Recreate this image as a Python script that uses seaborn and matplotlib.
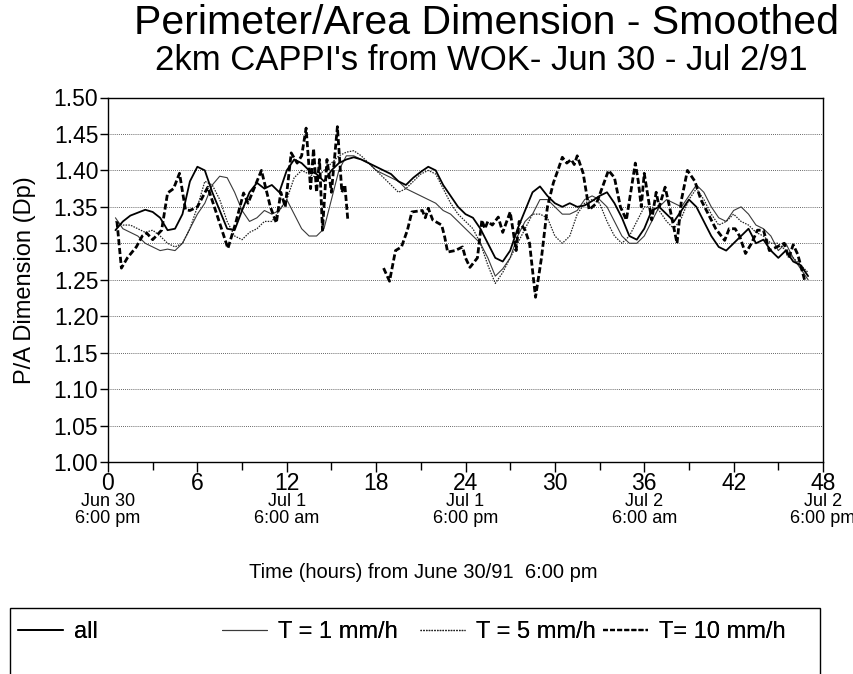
import numpy as np
import pandas as pd
import matplotlib
matplotlib.use("Agg")
import matplotlib.pyplot as plt
import matplotlib.transforms as mtransforms
from matplotlib.lines import Line2D
from matplotlib.patches import Rectangle
import seaborn as sns

# ---------------- data ----------------
t_grid = [0.5, 1, 1.5, 2, 2.5, 3, 3.5, 4, 4.5, 5, 5.5, 6, 6.5, 7, 7.5, 8, 8.5, 9, 9.5, 10,
          10.5, 11, 11.5, 12, 12.5, 13, 13.5, 14, 14.5, 15, 15.5, 16, 16.5, 17, 17.5, 18,
          18.5, 19, 19.5, 20, 20.5, 21, 21.5, 22, 22.5, 23, 23.5, 24, 24.5, 25, 25.5, 26,
          26.5, 27, 27.5, 28, 28.5, 29, 29.5, 30, 30.5, 31, 31.5, 32, 32.5, 33, 33.5, 34,
          34.5, 35, 35.5, 36, 36.5, 37, 37.5, 38, 38.5, 39, 39.5, 40, 40.5, 41, 41.5, 42,
          42.5, 43, 43.5, 44, 44.5, 45, 45.5, 46, 46.5, 47]

dp_all = [1.318, 1.330, 1.338, 1.342, 1.346, 1.343, 1.335, 1.318, 1.320, 1.340, 1.385, 1.405,
          1.400, 1.370, 1.345, 1.320, 1.318, 1.345, 1.370, 1.383, 1.375, 1.380, 1.370, 1.400,
          1.415, 1.410, 1.400, 1.395, 1.385, 1.400, 1.410, 1.415, 1.418, 1.415, 1.410, 1.405,
          1.400, 1.395, 1.385, 1.380, 1.390, 1.398, 1.405, 1.400, 1.380, 1.365, 1.350, 1.340,
          1.335, 1.320, 1.300, 1.280, 1.275, 1.290, 1.320, 1.345, 1.370, 1.378, 1.365, 1.355,
          1.350, 1.355, 1.350, 1.352, 1.358, 1.365, 1.370, 1.355, 1.335, 1.310, 1.305, 1.320,
          1.345, 1.350, 1.340, 1.330, 1.345, 1.360, 1.350, 1.330, 1.310, 1.295, 1.290, 1.300,
          1.310, 1.320, 1.300, 1.305, 1.290, 1.280, 1.290, 1.275, 1.270, 1.255]

dp_t1 = [1.335, 1.320, 1.315, 1.310, 1.300, 1.295, 1.290, 1.292, 1.290, 1.300, 1.320, 1.340,
         1.355, 1.380, 1.392, 1.390, 1.370, 1.345, 1.330, 1.335, 1.345, 1.340, 1.345, 1.360,
         1.340, 1.320, 1.310, 1.310, 1.320, 1.360, 1.400, 1.420, 1.420, 1.415, 1.410, 1.400,
         1.395, 1.390, 1.385, 1.375, 1.370, 1.365, 1.360, 1.355, 1.345, 1.340, 1.330, 1.320,
         1.310, 1.300, 1.280, 1.255, 1.265, 1.280, 1.310, 1.330, 1.340, 1.360, 1.360, 1.350,
         1.340, 1.340, 1.345, 1.360, 1.365, 1.360, 1.350, 1.330, 1.310, 1.300, 1.300, 1.310,
         1.330, 1.350, 1.360, 1.355, 1.350, 1.365, 1.380, 1.370, 1.350, 1.335, 1.330, 1.345,
         1.350, 1.340, 1.325, 1.320, 1.310, 1.290, 1.300, 1.280, 1.265, 1.250]

dp_t5 = [1.330, 1.325, 1.325, 1.320, 1.315, 1.318, 1.310, 1.300, 1.295, 1.300, 1.320, 1.350,
         1.385, 1.380, 1.360, 1.330, 1.310, 1.305, 1.315, 1.320, 1.330, 1.330, 1.345, 1.360,
         1.390, 1.400, 1.395, 1.390, 1.400, 1.410, 1.420, 1.425, 1.427, 1.420, 1.410, 1.400,
         1.390, 1.380, 1.370, 1.375, 1.385, 1.395, 1.400, 1.395, 1.375, 1.355, 1.340, 1.330,
         1.320, 1.300, 1.270, 1.245, 1.260, 1.280, 1.300, 1.320, 1.340, 1.340, 1.335, 1.310,
         1.300, 1.310, 1.340, 1.355, 1.360, 1.355, 1.330, 1.310, 1.300, 1.310, 1.330, 1.350,
         1.350, 1.345, 1.330, 1.320, 1.335, 1.360, 1.375, 1.360, 1.340, 1.325, 1.330, 1.340,
         1.330, 1.325, 1.315, 1.310, 1.300, 1.300, 1.290, 1.280, 1.270, 1.260]

# T = 10 mm/h : two segments (gap between ~16 h and ~18.5 h)
t10_time_a = [0.6, 0.9, 1.3, 1.9, 2.3, 2.6, 3.0, 3.6, 4.0, 4.4, 4.8, 5.2, 5.5, 6.0, 6.7, 7.3,
              8.05, 8.6, 9.1, 9.4, 10.3, 10.9, 11.3, 11.6, 11.9, 12.3, 12.7, 13.0, 13.3, 13.6,
              13.8, 14.0, 14.2, 14.4, 14.7, 15.0, 15.4, 15.7, 15.9, 16.1]
dp_t10_a = [1.330, 1.266, 1.280, 1.295, 1.310, 1.314, 1.305, 1.318, 1.369, 1.375, 1.396, 1.346,
            1.345, 1.350, 1.377, 1.340, 1.293, 1.330, 1.369, 1.355, 1.400, 1.350, 1.328, 1.370,
            1.350, 1.424, 1.410, 1.420, 1.458, 1.375, 1.430, 1.370, 1.415, 1.318, 1.415, 1.370,
            1.460, 1.370, 1.380, 1.332]
t10_time_b = [18.5, 18.9, 19.3, 19.7, 20.1, 20.4, 21.1, 21.3, 21.5, 21.8, 22.4, 22.6, 22.8, 23.3,
              23.8, 24.0, 24.3, 24.8, 25.1, 25.3, 25.5, 25.8, 26.2, 26.5, 27.0, 27.4, 27.6, 28.0,
              28.3, 28.7, 29.1, 29.5, 29.9, 30.2, 30.5, 30.8, 31.1, 31.3, 31.5, 31.9, 32.3, 32.8,
              33.6, 34.0, 34.4, 34.8, 35.4, 35.6, 35.8, 36.0, 36.5, 36.8, 37.0, 37.4, 37.7, 38.2,
              38.5, 38.9, 39.4, 39.8, 40.4, 40.8, 41.4, 41.7, 42.1, 42.4, 42.8, 43.2, 43.6, 44.0,
              44.4, 44.9, 45.4, 45.7, 46.0, 46.3, 46.5, 46.8]
dp_t10_b = [1.266, 1.248, 1.290, 1.295, 1.318, 1.343, 1.345, 1.335, 1.348, 1.332, 1.325, 1.309,
            1.288, 1.290, 1.295, 1.280, 1.267, 1.280, 1.332, 1.320, 1.330, 1.325, 1.336, 1.315,
            1.343, 1.290, 1.330, 1.318, 1.300, 1.226, 1.280, 1.350, 1.383, 1.400, 1.418, 1.410,
            1.415, 1.408, 1.420, 1.396, 1.346, 1.355, 1.400, 1.390, 1.350, 1.332, 1.410, 1.385,
            1.350, 1.396, 1.332, 1.370, 1.350, 1.377, 1.350, 1.300, 1.360, 1.400, 1.385, 1.360,
            1.336, 1.320, 1.304, 1.320, 1.320, 1.310, 1.286, 1.300, 1.318, 1.318, 1.290, 1.295,
            1.300, 1.280, 1.298, 1.285, 1.270, 1.247]

x_ticks = [0, 6, 12, 18, 24, 30, 36, 42, 48]
y_ticks = [1.00, 1.05, 1.10, 1.15, 1.20, 1.25, 1.30, 1.35, 1.40, 1.45, 1.50]
date_pos = [0, 12, 24, 36, 48]
date_labels = ["Jun 30\n6:00 pm", "Jul 1\n6:00 am", "Jul 1\n6:00 pm", "Jul 2\n6:00 am", "Jul 2\n6:00 pm"]
legend_labels = ["all", "T = 1 mm/h", "T = 5 mm/h", "T= 10 mm/h"]

title = "Perimeter/Area Dimension - Smoothed"
subtitle = "2km CAPPI's from WOK- Jun 30 - Jul 2/91"
xlabel = "Time (hours) from June 30/91  6:00 pm"
ylabel = "P/A Dimension (Dp)"

# ---------------- plotting ----------------
sns.set_style("ticks")
plt.rcParams["font.family"] = ["Liberation Sans", "DejaVu Sans"]
for k in ["text.color", "axes.labelcolor", "xtick.color", "ytick.color", "axes.edgecolor"]:
    plt.rcParams[k] = "black"

W, H = 854, 674
fig = plt.figure(figsize=(W / 100, H / 100), dpi=100)
ax = fig.add_axes([108 / W, 1 - 462 / H, (823 - 108) / W, (462 - 97.5) / H])

df_all = pd.DataFrame({"t": t_grid, "dp": dp_all})
df_t1 = pd.DataFrame({"t": t_grid, "dp": dp_t1})
df_t5 = pd.DataFrame({"t": t_grid, "dp": dp_t5})
df_t10 = pd.DataFrame({"t": t10_time_a + t10_time_b, "dp": dp_t10_a + dp_t10_b,
                       "seg": [1] * len(t10_time_a) + [2] * len(t10_time_b)})

sns.lineplot(data=df_t1, x="t", y="dp", ax=ax, color="#3a3a3a", lw=0.8, zorder=3)
sns.lineplot(data=df_t5, x="t", y="dp", ax=ax, color="#222222", lw=0.9, zorder=3,
             linestyle=(0, (1.2, 1.0)))
sns.lineplot(data=df_all, x="t", y="dp", ax=ax, color="black", lw=1.3, zorder=4)
sns.lineplot(data=df_t10, x="t", y="dp", units="seg", estimator=None, ax=ax,
             color="black", lw=2.0, zorder=5, linestyle=(0, (2.2, 1.0)))

ax.set_xlim(0, 48)
ax.set_ylim(1.0, 1.5)
ax.set_xticks(x_ticks)
ax.set_xticklabels([str(v) for v in x_ticks], fontsize=16.5)
ax.set_xticks(np.arange(3, 48, 6), minor=True)
ax.set_yticks(y_ticks)
ax.set_yticklabels([f"{v:.2f}" for v in y_ticks], fontsize=16.5)
ax.tick_params(axis="x", which="major", length=7, width=1, direction="out", pad=0)
ax.tick_params(axis="x", which="minor", length=6, width=1, direction="out")
ax.tick_params(axis="y", which="major", length=6, width=1, direction="out", pad=1)
ax.yaxis.grid(True, color="#333333", linestyle=(0, (1, 1.5)), lw=0.6)
ax.xaxis.grid(False)
for s in ax.spines.values():
    s.set_visible(True)
    s.set_color("black")
    s.set_linewidth(1.0)
ax.set_xlabel("")
ax.set_ylabel(ylabel, fontsize=17)
ax.yaxis.set_label_coords(-(108 - 36) / (823 - 108), 0.5)

# date labels under the hour ticks
trans = mtransforms.blended_transform_factory(ax.transData, fig.transFigure)
for p, lab in zip(date_pos, date_labels):
    ax.text(p, 1 - 510 / H, lab, transform=trans, ha="center", va="center",
            fontsize=13, linespacing=1.0)

fig.text(487 / W, 1 - 23 / H, title, ha="center", va="center", fontsize=29.5)
fig.text(481 / W, 1 - 60 / H, subtitle, ha="center", va="center", fontsize=25)
fig.text(423 / W, 1 - 572 / H, xlabel, ha="center", va="center", fontsize=14.5)

# legend frame and entries
fig.add_artist(Rectangle((10 / W, -0.01), (820 - 10) / W, (H + 7 - 608) / H,
                         transform=fig.transFigure, fill=False, ec="black", lw=1.0))
handle_styles = [
    dict(color="black", lw=1.3),
    dict(color="#3a3a3a", lw=0.8),
    dict(color="#222222", lw=0.9, linestyle=(0, (1.2, 1.0))),
    dict(color="black", lw=1.6, linestyle=(0, (2.2, 1.0))),
]
leg_x = [9, 213, 411, 594]
for lx, lab, st in zip(leg_x, legend_labels, handle_styles):
    h = Line2D([], [], **st)
    lg = fig.legend(handles=[h], labels=[lab], loc="center left",
                    bbox_to_anchor=(lx / W, 1 - 632 / H), frameon=False,
                    fontsize=17, handlelength=1.9, handletextpad=0.45, borderaxespad=0)
    fig.add_artist(lg)

fig.savefig("out.png", dpi=100)
